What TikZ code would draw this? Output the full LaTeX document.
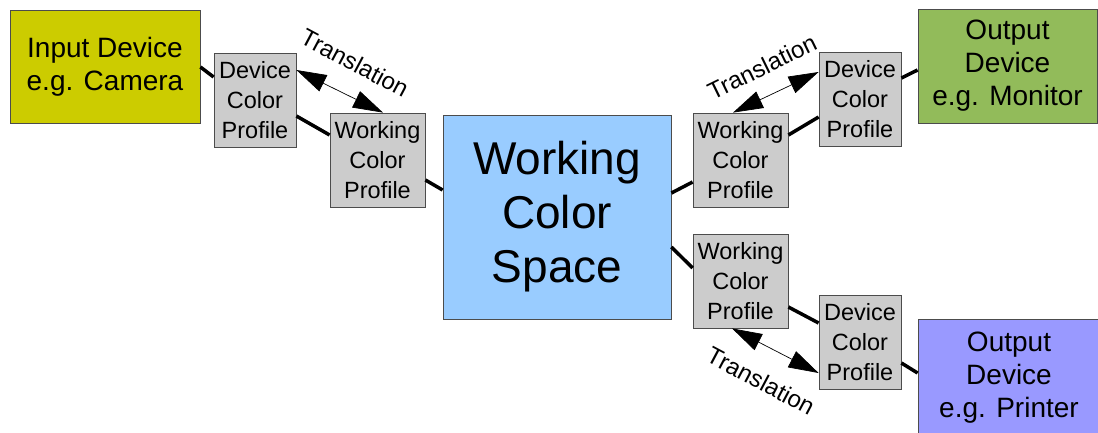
\documentclass[tikz,border=0pt]{standalone}
\usepackage{fontspec}
\setmainfont{Liberation Sans}
\usetikzlibrary{arrows.meta,calc}
\definecolor{inyellow}{RGB}{204,204,0}
\definecolor{mongreen}{RGB}{146,187,90}
\definecolor{prblue}{RGB}{153,153,255}
\definecolor{wcsblue}{RGB}{153,204,255}
\definecolor{profgray}{RGB}{204,204,204}
\tikzset{
  box/.style={draw=black!70, line width=0.8pt, rectangle, align=center, inner sep=0pt},
  bigbox/.style={box, font=\fontsize{28}{33}\selectfont},
  profbox/.style={box, fill=profgray, minimum width=82pt, minimum height=94pt, font=\fontsize{23.5}{30}\selectfont},
  wprofbox/.style={profbox, minimum width=95pt},
  conn/.style={line width=3.5pt, black},
  transarrow/.style={line width=0.7pt, {Triangle[length=30pt,width=18pt]}-{Triangle[length=30pt,width=18pt]}},
  translabel/.style={font=\fontsize{24}{28}\selectfont, inner sep=0pt}
}
\begin{document}
\begin{tikzpicture}[x=1pt,y=-1pt]
\useasboundingbox (0,0) rectangle (1098,432);
\fill[white] (0,0) rectangle (1098,432);
% main boxes
\node[bigbox, fill=inyellow, minimum width=190pt, minimum height=113pt] (in) at (105,66.5) {Input Device\\e.g. Camera};
\node[bigbox, fill=mongreen, minimum width=179pt, minimum height=114pt] (mon) at (1007.5,66) {Output\\Device\\e.g. Monitor};
\node[bigbox, fill=prblue, minimum width=182pt, minimum height=118pt] (pr) at (1009,378) {Output\\Device\\e.g. Printer};
\node[box, fill=wcsblue, minimum width=228pt, minimum height=204pt, font=\fontsize{46}{54}\selectfont] (wcs) at (557,217) {Working\\Color\\Space};
% profile boxes
\node[profbox] (dcl) at (255,100) {Device\\Color\\Profile};
\node[wprofbox] (wcl) at (377.5,160) {Working\\Color\\Profile};
\node[wprofbox] (wcr1) at (740.5,160) {Working\\Color\\Profile};
\node[profbox] (dcr1) at (860,99.5) {Device\\Color\\Profile};
\node[wprofbox] (wcr2) at (740.5,281) {Working\\Color\\Profile};
\node[profbox] (dcr2) at (860,342) {Device\\Color\\Profile};
% thick connectors
\draw[conn] ($(in.east)+(0,0.5)$) -- ($(dcl.west)+(0,-23)$);
\draw[conn] ($(dcl.east)+(0,16)$) -- ($(wcl.west)+(0,-25)$);
\draw[conn] ($(wcl.east)+(0,20)$) -- ($(wcs.west)+(0,-27)$);
\draw[conn] ($(wcs.east)+(0,-24)$) -- ($(wcr1.west)+(0,22)$);
\draw[conn] ($(wcr1.east)+(0,-25)$) -- ($(dcr1.west)+(0,17.5)$);
\draw[conn] ($(dcr1.east)+(0,-21.5)$) -- ($(mon.west)+(0,4)$);
\draw[conn] ($(wcs.east)+(0,30)$) -- ($(wcr2.west)+(0,-13)$);
\draw[conn] ($(wcr2.east)+(0,26)$) -- ($(dcr2.west)+(0,-19)$);
\draw[conn] ($(dcr2.east)+(0,21)$) -- ($(pr.west)+(0,-5)$);
% translation arrows
\draw[transarrow] ($(dcl.east)+(0,-30)$) -- ($(wcl.north)+(5.5,0)$);
\draw[transarrow] ($(wcr1.north)+(-7.5,0)$) -- ($(dcr1.west)+(0,-27.5)$);
\draw[transarrow] ($(wcr2.south)+(-8.5,0)$) -- ($(dcr2.west)+(0,31)$);
% labels
\node[translabel, rotate=-28] (t1) at (355,63) {Translation};
\node[translabel, rotate=26] (t2) at (762,67) {Translation};
\node[translabel, rotate=-28] (t3) at (761,381) {Translation};
\end{tikzpicture}
\end{document}
